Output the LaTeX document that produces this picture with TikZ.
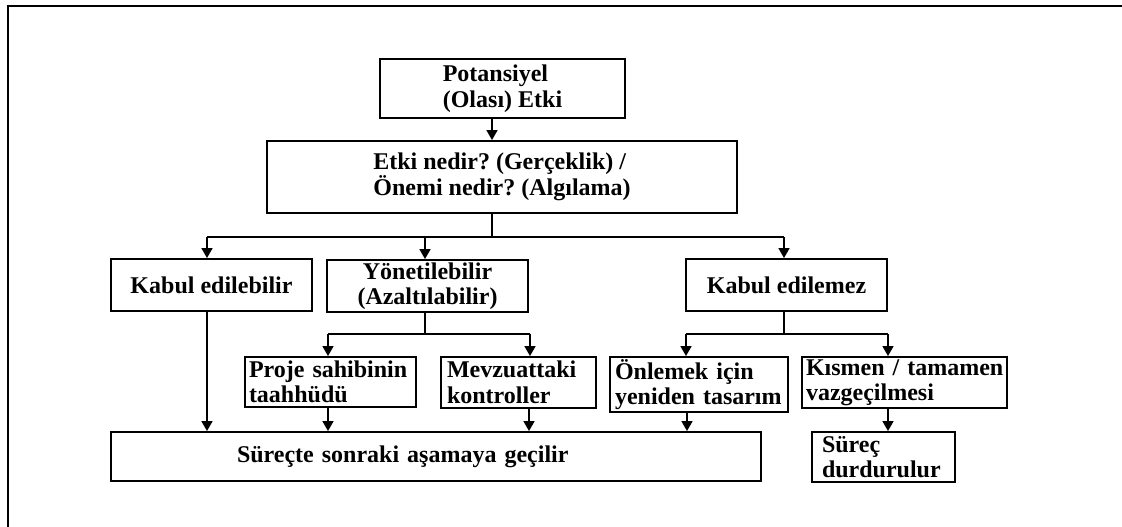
\documentclass[tikz,border=0pt]{standalone}
\usepackage{fontspec}
\setmainfont{Liberation Serif}
\usetikzlibrary{arrows.meta}
\begin{document}
\begin{tikzpicture}[x=1pt,y=-1pt,
  box/.style={draw, line width=1.9pt, rectangle, inner ysep=0pt,
    font=\fontsize{24}{25.5}\selectfont\bfseries,
    execute at begin node={\hyphenpenalty=10000\exhyphenpenalty=10000\hbadness=10000\hfuzz=20pt}},
  cbox/.style={box, align=center, inner xsep=0pt},
  lbox/.style={box, align=left},
  link/.style={line width=1.7pt},
  arr/.style={link, -{Triangle[width=11pt,length=10pt]}}]
\useasboundingbox (0,0) rectangle (1122,527);
\draw[line width=2.8pt] (8,527) -- (8,6) -- (1122,6);

\node[box, align=left, inner xsep=0pt, minimum width=245pt, minimum height=59pt] (pot) at (502.5,88.5) {Potansiyel\\(Olası)~Etki};
\node[box, align=left, inner xsep=0pt, minimum width=470pt, minimum height=72pt] (etki) at (502,177) {Etki~nedir?~(Gerçeklik)~/\\Önemi~nedir?~(Algılama)};
\node[cbox, minimum width=201pt, minimum height=52pt] (ka) at (211.5,285) {Kabul~edilebilir};
\node[cbox, minimum width=201pt, minimum height=52pt] (yon) at (427.5,286) {Yönetilebilir\\(Azaltılabilir)};
\node[cbox, minimum width=201pt, minimum height=52pt] (ke) at (786.5,285) {Kabul~edilemez};
\node[lbox, inner xsep=4pt, text width=163pt, minimum height=50pt] (proje) at (330.5,382) {Proje~sahibinin\\taahhüdü};
\node[lbox, inner xsep=6pt, text width=143pt, minimum height=51pt] (mevz) at (518.5,382.5) {Mevzuattaki\\kontroller};
\node[lbox, inner xsep=5pt, text width=168pt, minimum height=55pt] (onl) at (699,384.5) {Önlemek~için\\yeniden~tasarım};
\node[lbox, inner xsep=4pt, text width=197pt, minimum height=51pt] (kis) at (904.5,382.5) {Kısmen~/~tamamen\\vazgeçilmesi};
\node[lbox, inner xsep=10pt, text width=123pt, minimum height=50pt] (sd) at (883.5,457) {Süreç\\durdurulur};
\node[lbox, inner xsep=126pt, text width=398pt, minimum height=49pt] (sur) at (436,456.5) {Süreçte~sonraki~aşamaya~geçilir};

\coordinate (j1) at (492,237);
\coordinate (a1) at (207,237);
\coordinate (a2) at (425,237);
\coordinate (a3) at (784,237);
\coordinate (j2) at (425,334);
\coordinate (b1) at (328,334);
\coordinate (b2) at (530,334);
\coordinate (j3) at (784,334);
\coordinate (c1) at (686,334);
\coordinate (c2) at (888,334);
\coordinate (m1) at (529,0);
\coordinate (o1) at (687,0);

\draw[arr] (j1 |- pot.south) -- (j1 |- etki.north);
\draw[link] (j1 |- etki.south) -- (j1);
\draw[link] (a1) -- (a3);
\draw[arr] (a1) -- (a1 |- ka.north);
\draw[arr] (a2) -- (a2 |- yon.north);
\draw[arr] (a3) -- (a3 |- ke.north);

\draw[link] (j2 |- yon.south) -- (j2);
\draw[link] (b1) -- (b2);
\draw[arr] (b1) -- (b1 |- proje.north);
\draw[arr] (b2) -- (b2 |- mevz.north);

\draw[link] (j3 |- ke.south) -- (j3);
\draw[link] (c1) -- (c2);
\draw[arr] (c1) -- (c1 |- onl.north);
\draw[arr] (c2) -- (c2 |- kis.north);
\draw[arr] (c2 |- kis.south) -- (c2 |- sd.north);

\draw[arr] (a1 |- ka.south) -- (a1 |- sur.north);
\draw[arr] (b1 |- proje.south) -- (b1 |- sur.north);
\draw[arr] (m1 |- mevz.south) -- (m1 |- sur.north);
\draw[arr] (o1 |- onl.south) -- (o1 |- sur.north);
\end{tikzpicture}
\end{document}
